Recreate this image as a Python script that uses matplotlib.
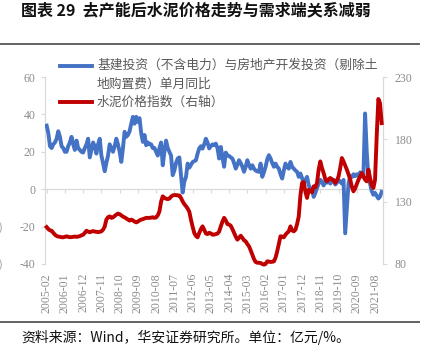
import numpy as np
import matplotlib
matplotlib.use("Agg")
import matplotlib.pyplot as plt
from matplotlib.lines import Line2D

plt.rcParams['font.family'] = ['Noto Sans CJK SC', 'DejaVu Sans']

# ---------------- data ----------------
title = "图表 29  去产能后水泥价格走势与需求端关系减弱"
source = "资料来源：Wind，华安证券研究所。单位：亿元/%。"
legend_blue = ["基建投资（不含电力）与房地产开发投资（剔除土", "地购置费）单月同比"]
legend_red = "水泥价格指数（右轴）"

# monthly, 2005-02 ... 2021-12
invest_yoy = [
    34, 30, 23, 22, 24, 25, 27, 31, 28, 23,
    22, 20, 20, 23, 25, 28, 24, 21, 26, 22,
    21, 20, 19.6, 22, 24, 27, 17, 21, 25, 23,
    19, 24, 27, 18, 14, 9.6, 14, 18, 24, 22,
    20, 23, 27, 24, 20, 14.6, 22, 30.7, 28, 29,
    31, 35, 38.7, 35, 38.7, 36, 38, 30, 25.3, 29,
    23.5, 25, 24, 24, 22, 22, 20, 18, 22, 25,
    12.8, 20, 26, 22, 20, 18, 7.5, 10, 14, 16.4,
    17, 7.5, -1.8, 4, 6.6, 13.7, 11.5, 13, 14.5, 15,
    15.5, 19, 21.8, 23, 21.7, 24, 27, 25, 21.8, 23,
    24, 23.5, 24.4, 22, 16.4, 22.6, 17, 12, 19.6, 18,
    17.8, 17, 16.4, 14, 11, 13, 15.5, 14, 12, 9.3,
    12, 15.5, 13, 11, 12.8, 11, 10, 9.5, 9.3, 13.7,
    6.6, 9, 12, 16, 18.2, 16.4, 14, 12, 13.7, 12,
    11, 8, 5.7, 10, 13.7, 12, 11, 14.6, 12, 11,
    10, 9.3, 6.6, 8.4, 6, 3, 5, 6.6, 2.1, 0.4,
    0, -4.1, -2, 0.6, 3, 5, 4, 2, 4, 3.5,
    5, 3, 4.5, 5, 2.5, 3.5, 5, 4, 3, 5,
    -23.6, -10, 3, 7, 6.5, 8, 7, 8, 7, 9,
    7, 8, 40.5, 20, 6, 3, -1, -3, -2, -3.5,
    -5, -4, -1.4,
]

cement_index = [
    109.6, 108, 107, 106.7, 105, 103.5, 102.5, 102, 101.8, 101.5,
    101.4, 101.8, 102.2, 101.8, 101.5, 101.6, 101.8, 102, 101.8, 102,
    102.4, 103, 103.5, 105, 106.7, 106, 105.5, 106, 106.4, 106,
    105.8, 105.6, 105.8, 106.2, 107.5, 110, 115.6, 117.5, 118.2, 117,
    117.4, 118.5, 119.6, 120.4, 120, 119, 118, 117.4, 116.5, 115.5,
    114.8, 115.6, 115, 114, 113.4, 114, 115, 115.6, 116, 116.5,
    117, 117, 117, 117.2, 117.5, 117, 117.4, 119, 122.2, 130,
    134.3, 133, 132.4, 132, 132.5, 134, 135, 135.3, 135.3, 135,
    135, 133, 130.2, 128, 126.4, 124.5, 122, 115.6, 110, 104.9,
    102.5, 101.4, 104.9, 108, 110.2, 107.5, 104.5, 104, 105, 104.5,
    103.5, 103.6, 104, 104.4, 106, 110.2, 114, 117, 115, 112,
    111.6, 110.7, 108, 104.9, 102, 99.5, 101, 102.7, 101, 99,
    98.2, 96, 94.2, 91, 87.5, 84, 81.6, 81, 81, 80.8,
    80, 79.5, 80, 82.1, 82, 81.6, 81.8, 82.1, 85, 90.1,
    96, 102.2, 102, 101.4, 103.5, 105, 106.2, 110.2, 107, 106.2,
    107.5, 112, 118.2, 135, 145, 145.8, 138, 133, 139.6, 138.5,
    137.5, 142.3, 141.5, 145, 155.7, 162.3, 157, 153, 148, 146.3,
    148, 149, 148, 147, 145, 147, 150.3, 157, 165, 162.3,
    159, 155.7, 152, 148, 142, 138.3, 140.6, 144, 147.6, 150,
    153, 150, 147.6, 146.3, 155.7, 149, 143, 141, 147.6, 182.4,
    212.4, 209, 193,
]

tick_labels = ["2005-02", "2006-01", "2006-12", "2007-11", "2008-10", "2009-09",
               "2010-08", "2011-07", "2012-06", "2013-05", "2014-04", "2015-03",
               "2016-02", "2017-01", "2017-12", "2018-11", "2019-10", "2020-09",
               "2021-08"]
tick_step = 11  # months between labelled ticks

left_ticks = [-40, -20, 0, 20, 40, 60]
right_ticks = [80, 130, 180, 230]

# ---------------- figure ----------------
W, H = 424, 354
fig = plt.figure(figsize=(W / 100, H / 100), dpi=100)

BLUE = "#4472C4"
RED = "#C00000"
GRAY_TXT = "#8C8C8C"
AXIS_GRAY = "#D9D9D9"

def fx(px):
    return px / W

def fy(py):
    return 1 - py / H

ax = fig.add_axes([fx(45), fy(264), fx(383) - fx(45), fy(77) - fy(264)])
ax2 = ax.twinx()

x = np.arange(len(invest_yoy))
xr = np.arange(len(cement_index))

ax.plot(x, invest_yoy, color=BLUE, lw=2.8, solid_joinstyle='round', zorder=3)
ax2.plot(xr, cement_index, color=RED, lw=2.8, solid_joinstyle='round', zorder=3, clip_on=False)

ax.set_xlim(-1.0, 202.8)
ax.set_ylim(-40, 60)
ax2.set_ylim(80, 230)

num_font = dict(family=['Liberation Serif', 'DejaVu Serif'], size=8.5)

ax.set_yticks(left_ticks)
ax.set_yticklabels([str(v) for v in left_ticks], color=GRAY_TXT, **num_font)
ax2.set_yticks(right_ticks)
ax2.set_yticklabels([str(v) for v in right_ticks], color=GRAY_TXT, **num_font)

pos = [i * tick_step for i in range(len(tick_labels))]
ax.set_xticks(pos)
ax.set_xticklabels(tick_labels, rotation=90, color=GRAY_TXT, **num_font)
ax.tick_params(axis='x', length=0, pad=6.5)
ax.tick_params(axis='y', length=3, width=0.8, color=AXIS_GRAY, pad=4)
ax2.tick_params(axis='y', length=3, width=0.8, color=AXIS_GRAY, pad=5.5)

for s in ['top', 'right', 'bottom']:
    ax.spines[s].set_visible(False)
ax.spines['left'].set_color(AXIS_GRAY)
ax.spines['left'].set_linewidth(0.9)
for s in ['top', 'left', 'bottom']:
    ax2.spines[s].set_visible(False)
ax2.spines['right'].set_color(AXIS_GRAY)
ax2.spines['right'].set_linewidth(0.9)

# zero line with category tick marks
zero_frac = (0 - (-40)) / (60 - (-40))
sec = ax.secondary_xaxis(zero_frac)
sec.set_xticks(pos)
sec.set_xticklabels([])
sec.tick_params(axis='x', length=3, width=0.8, color=AXIS_GRAY, direction='out')
sec.spines['bottom'].set_color(AXIS_GRAY)
sec.spines['bottom'].set_linewidth(0.9)

# legend (manual, wrapped like the original)
leg_font = dict(size=9.2, color="#595959")
fig.add_artist(Line2D([fx(60), fx(92)], [fy(65.5), fy(65.5)], color=BLUE, lw=2.8,
                      transform=fig.transFigure))
fig.text(fx(97), fy(65.5), legend_blue[0], va='center', ha='left', **leg_font)
fig.text(fx(97), fy(84), legend_blue[1], va='center', ha='left', **leg_font)
fig.add_artist(Line2D([fx(60), fx(92)], [fy(102), fy(102)], color=RED, lw=2.8,
                      transform=fig.transFigure))
fig.text(fx(97), fy(102), legend_red, va='center', ha='left', **leg_font)

# title, rules, source
fig.text(fx(21), fy(10.5), title, ha='left', va='center', fontsize=11.5, fontweight='bold', color='#111111')
fig.add_artist(Line2D([0, fx(419)], [fy(43.5), fy(43.5)], color='#555555', lw=1.3,
                      transform=fig.transFigure))
fig.add_artist(Line2D([0, fx(419)], [fy(322), fy(322)], color='#555555', lw=1.3,
                      transform=fig.transFigure))
fig.text(fx(21), fy(337.5), source, ha='left', va='center', fontsize=10, color='#111111')

# clipped marks at the left edge of the original image
fig.text(fx(-1), fy(228), ")", ha='left', va='center', fontsize=8, color='#9A9A9A')
fig.text(fx(-1), fy(265), ")", ha='left', va='center', fontsize=8, color='#9A9A9A')

fig.savefig("out.png", dpi=100)
